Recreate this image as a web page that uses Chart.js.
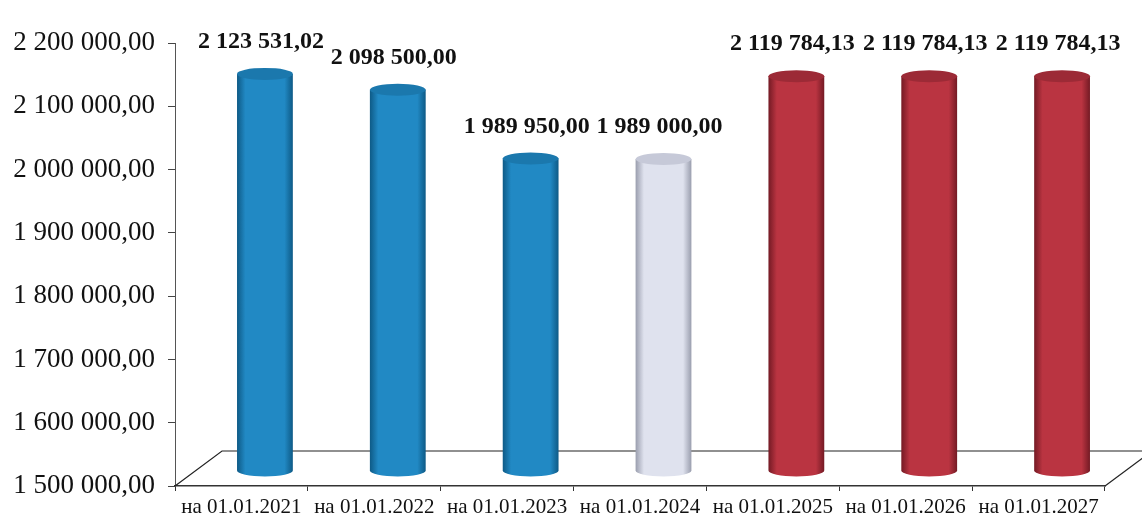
<!DOCTYPE html>
<html><head><meta charset="utf-8">
<script src="https://cdn.jsdelivr.net/npm/chart.js@4"></script>
<style>html,body{margin:0;padding:0;background:#fff}#wrap{width:1142px;height:520px}</style>
</head><body><div id="wrap"><canvas id="c"></canvas></div>
<script>
const categories = ["на 01.01.2021","на 01.01.2022","на 01.01.2023","на 01.01.2024","на 01.01.2025","на 01.01.2026","на 01.01.2027"];
const values = [2123531.02, 2098500.00, 1989950.00, 1989000.00, 2119784.13, 2119784.13, 2119784.13];
const yMin = 1500000, yMax = 2200000, yStep = 100000;
// styles (not data)
const palette = [
  {mid:"#2189c4", edge:"#0e5a86", top:"#1b78ad"},
  {mid:"#2189c4", edge:"#0e5a86", top:"#1b78ad"},
  {mid:"#2189c4", edge:"#0e5a86", top:"#1b78ad"},
  {mid:"#dfe2ee", edge:"#9a9eae", top:"#c6c9d8"},
  {mid:"#ba3441", edge:"#741a24", top:"#9c2a36"},
  {mid:"#ba3441", edge:"#741a24", top:"#9c2a36"},
  {mid:"#ba3441", edge:"#741a24", top:"#9c2a36"}
];
const DX = 47, DY = -35;

function fmt(v){
  const s = v.toFixed(2).split(".");
  const int = s[0].replace(/\B(?=(\d{3})+(?!\d))/g, " ");
  return int + "," + s[1];
}

const cyl = {
  id: "cyl",
  beforeDatasetsDraw(chart){
    const ctx = chart.ctx, a = chart.chartArea;
    ctx.save();
    ctx.strokeStyle = "#222"; ctx.lineWidth = 1.2;
    ctx.beginPath();
    ctx.moveTo(a.left, a.bottom);
    ctx.lineTo(a.left + DX, a.bottom + DY);
    ctx.lineTo(chart.width + 5, a.bottom + DY);
    ctx.stroke();
    ctx.beginPath();
    ctx.moveTo(a.right, a.bottom);
    ctx.lineTo(a.right + DX, a.bottom + DY);
    ctx.stroke();
    ctx.restore();
  },
  afterDatasetsDraw(chart){
    const ctx = chart.ctx, y = chart.scales.y;
    const meta = chart.getDatasetMeta(0);
    const base = y.getPixelForValue(yMin) + DY/2 + 2;
    meta.data.forEach((el, i) => {
      const p = palette[i];
      const cx = el.x + DX/2;
      const w = el.width;
      const rx = w/2, ry = 6;
      const top = el.y + DY/2;
      const g = ctx.createLinearGradient(cx - rx, 0, cx + rx, 0);
      g.addColorStop(0, p.edge);
      g.addColorStop(0.15, p.mid);
      g.addColorStop(0.5, p.mid);
      g.addColorStop(0.85, p.mid);
      g.addColorStop(1, p.edge);
      ctx.save();
      ctx.fillStyle = g;
      ctx.beginPath();
      ctx.moveTo(cx - rx, top);
      ctx.lineTo(cx - rx, base);
      ctx.ellipse(cx, base, rx, ry, 0, Math.PI, 0, true);
      ctx.lineTo(cx + rx, top);
      ctx.closePath();
      ctx.fill();
      ctx.fillStyle = p.top;
      ctx.beginPath();
      ctx.ellipse(cx, top, rx, ry, 0, 0, Math.PI*2);
      ctx.fill();
      ctx.fillStyle = "#111";
      ctx.font = "bold 24px 'Liberation Serif'";
      ctx.textAlign = "center";
      ctx.textBaseline = "middle";
      ctx.fillText(fmt(values[i]), cx - 4, top - ry - 26);
      ctx.restore();
    });
  }
};

new Chart(document.getElementById("c"), {
  type: "bar",
  data: { labels: categories, datasets: [{ data: values, backgroundColor: "rgba(0,0,0,0)", borderWidth: 0, barPercentage: 0.42, categoryPercentage: 1, base: yMin }] },
  options: {
    responsive: true, maintainAspectRatio: false, animation: false,
    layout: { padding: { top: 43, right: 37, left: 0, bottom: 0 } },
    plugins: { legend: { display: false }, tooltip: { enabled: false } },
    scales: {
      x: {
        grid: { offset: true, drawOnChartArea: false, tickLength: 5, color: "#333", tickColor: "#333" },
        border: { color: "#333", width: 1.5 },
        ticks: { color: "#111", font: { family: "'Liberation Serif'", size: 21 }, maxRotation: 0, autoSkip: false, padding: 4 },
        afterFit(s){ s.height = 34; }
      },
      y: {
        min: yMin, max: yMax,
        grid: { drawOnChartArea: false, tickLength: 7, color: "#444", tickColor: "#444" },
        border: { color: "#555", width: 1 },
        ticks: { stepSize: yStep, color: "#111", font: { family: "'Liberation Serif'", size: 27 }, padding: 13, callback: v => fmt(v) },
        afterFit(s){ s.width = 175; }
      }
    }
  },
  plugins: [cyl]
});
</script></body></html>
